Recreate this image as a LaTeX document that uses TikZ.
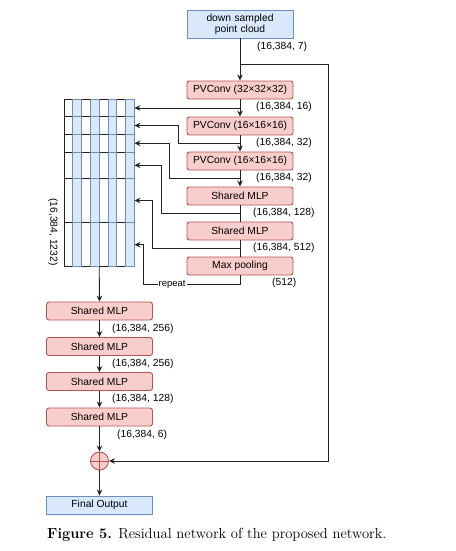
\documentclass[tikz,border=0pt]{standalone}
\usepackage{fontspec}
\newfontfamily\diagfont{Liberation Sans}
\usetikzlibrary{arrows.meta}
\definecolor{redfill}{HTML}{F8CECC}
\definecolor{redline}{HTML}{B85450}
\definecolor{bluefill}{HTML}{DAE8FC}
\definecolor{blueline}{HTML}{6C8EBF}
\definecolor{wire}{HTML}{222222}
\tikzset{
  redbox/.style={draw=redline, fill=redfill, line width=0.9pt, rounded corners=2.5pt, minimum width=106pt, minimum height=18pt, inner sep=0pt, font=\diagfont\fontsize{10.3}{12}\selectfont},
  bluebox/.style={draw=blueline, fill=bluefill, line width=0.9pt, minimum width=106pt, minimum height=18pt, inner sep=0pt, font=\diagfont\fontsize{10.3}{12}\selectfont},
  dimlabel/.style={anchor=west, inner sep=0pt, font=\diagfont\fontsize{10.3}{12}\selectfont},
  wireline/.style={draw=wire, line width=0.9pt},
  arr/.style={wireline, -{Stealth[length=6pt,width=5.5pt]}},
  whitecol/.style={draw=wire, fill=white, line width=0.8pt},
  bluecol/.style={draw=blueline, fill=bluefill, line width=0.8pt},
}
\begin{document}
\begin{tikzpicture}[x=1pt,y=-1pt]
\useasboundingbox (0,0) rectangle (455,551);
% top input
\node[bluebox, minimum height=28pt, align=center, text width=100pt] (inp) at (240,24) {down sampled\\[-1pt]point cloud};
% right column
\node[redbox] (pv1) at (240,90) {PVConv (32×32×32)};
\node[redbox] (pv2) at (240,126) {PVConv (16×16×16)};
\node[redbox] (pv3) at (240,161) {PVConv (16×16×16)};
\node[redbox] (sm1) at (240,196) {Shared MLP};
\node[redbox] (sm2) at (240,231) {Shared MLP};
\node[redbox] (mp) at (240,266) {Max pooling};
% dim labels
\node[dimlabel] (l0) at (257,47) {(16,384, 7)};
\node[dimlabel] (l1) at (256,107) {(16,384, 16)};
\node[dimlabel] (l2) at (256,143) {(16,384, 32)};
\node[dimlabel] (l3) at (256,178) {(16,384, 32)};
\node[dimlabel] (l4) at (253,213) {(16,384, 128)};
\node[dimlabel] (l5) at (253,248) {(16,384, 512)};
\node[dimlabel] (l6) at (272,283) {(512)};
% grid
\foreach \i/\xa in {0/64,1/72.8,2/81.6,3/90.4,4/99.2,5/108,6/116.8,7/125.6}{
  \foreach \ya/\yb in {99/116.7,116.7/134.3,134.3/152.3,152.3/178.3,178.3/222.7,222.7/266.7}{
    \pgfmathtruncatemacro{\odd}{mod(\i,2)}
    \ifnum\odd=0
      \draw[whitecol] (\xa,\ya) rectangle (\xa+8.8,\yb);
    \fi
  }
}
\foreach \i/\xa in {0/64,1/72.8,2/81.6,3/90.4,4/99.2,5/108,6/116.8,7/125.6}{
  \foreach \ya/\yb in {99/116.7,116.7/134.3,134.3/152.3,152.3/178.3,178.3/222.7,222.7/266.7}{
    \pgfmathtruncatemacro{\odd}{mod(\i,2)}
    \ifnum\odd=1
      \draw[bluecol] (\xa,\ya) rectangle (\xa+8.8,\yb);
    \fi
  }
}
\coordinate (g1) at (134.4,108);
\coordinate (g2) at (134.4,125.5);
\coordinate (g3) at (134.4,143.3);
\coordinate (g4) at (134.4,165.3);
\coordinate (g5) at (134.4,200.5);
\coordinate (g6) at (134.4,244.7);
\coordinate (gout) at (99.2,266.7);
\node[inner sep=0pt, rotate=-90, font=\diagfont\fontsize{10.3}{12}\selectfont] (glabel) at (53,232) {(16,384, 1232)};
% main chain
\draw[arr] (inp.south) -- (pv1.north);
\draw[arr] (pv1.south) -- (pv2.north);
\draw[arr] (pv2.south) -- (pv3.north);
\draw[arr] (pv3.south) -- (sm1.north);
\draw[wireline] (sm1.south) -- (sm2.north);
\draw[wireline] (sm2.south) -- (mp.north);
% feeds into grid
\coordinate (b1) at (240,108);
\coordinate (b2) at (240,143.3);
\coordinate (b3) at (240,178.3);
\coordinate (b4) at (240,213.5);
\coordinate (b5) at (240,248.7);
\coordinate (b6) at (240,284);
\draw[arr] (b1) -- (g1);
\draw[arr] (b2) -- (178,143.3) -- (178,125.5) -- (g2);
\draw[arr] (b3) -- (169,178.3) -- (169,143.3) -- (g3);
\draw[arr] (b4) -- (161,213.5) -- (161,165.3) -- (g4);
\draw[arr] (b5) -- (152,248.7) -- (152,200.5) -- (g5);
\draw[arr] (mp.south) -- (b6) -- node[pos=0.7, fill=white, inner sep=1pt, font=\diagfont\fontsize{9.5}{11}\selectfont] (rep) {repeat} (143,284) -- (143,244.7) -- (g6);
% lower chain
\node[redbox] (m1) at (99.5,311) {Shared MLP};
\node[redbox] (m2) at (99.5,346.5) {Shared MLP};
\node[redbox] (m3) at (99.5,381.5) {Shared MLP};
\node[redbox] (m4) at (99.5,417) {Shared MLP};
\node[dimlabel] (k1) at (112,329) {(16,384, 256)};
\node[dimlabel] (k2) at (112,364) {(16,384, 256)};
\node[dimlabel] (k3) at (112,399) {(16,384, 128)};
\node[dimlabel] (k4) at (117,435) {(16,384, 6)};
\node[circle, draw=redline, fill=redfill, line width=0.9pt, minimum size=18pt, inner sep=0pt] (plus) at (99.5,461) {};
\draw[draw=redline, line width=0.9pt] (plus.north) -- (plus.south) (plus.west) -- (plus.east);
\node[bluebox] (out) at (99.5,505) {Final Output};
\draw[arr] (gout) -- (m1.north);
\draw[arr] (m1.south) -- (m2.north);
\draw[arr] (m2.south) -- (m3.north);
\draw[arr] (m3.south) -- (m4.north);
\draw[arr] (m4.south) -- (plus.north);
\draw[arr] (plus.south) -- (out.north);
% residual
\coordinate (r0) at (240,64);
\draw[arr] (r0) -- (328,64) -- (328,461) -- (plus.east);
% caption
\node[anchor=west, inner sep=0pt, font=\fontsize{14.6}{16}\selectfont] (cap) at (47,535) {\textbf{Figure 5.} Residual network of the proposed network.};
\end{tikzpicture}
\end{document}
